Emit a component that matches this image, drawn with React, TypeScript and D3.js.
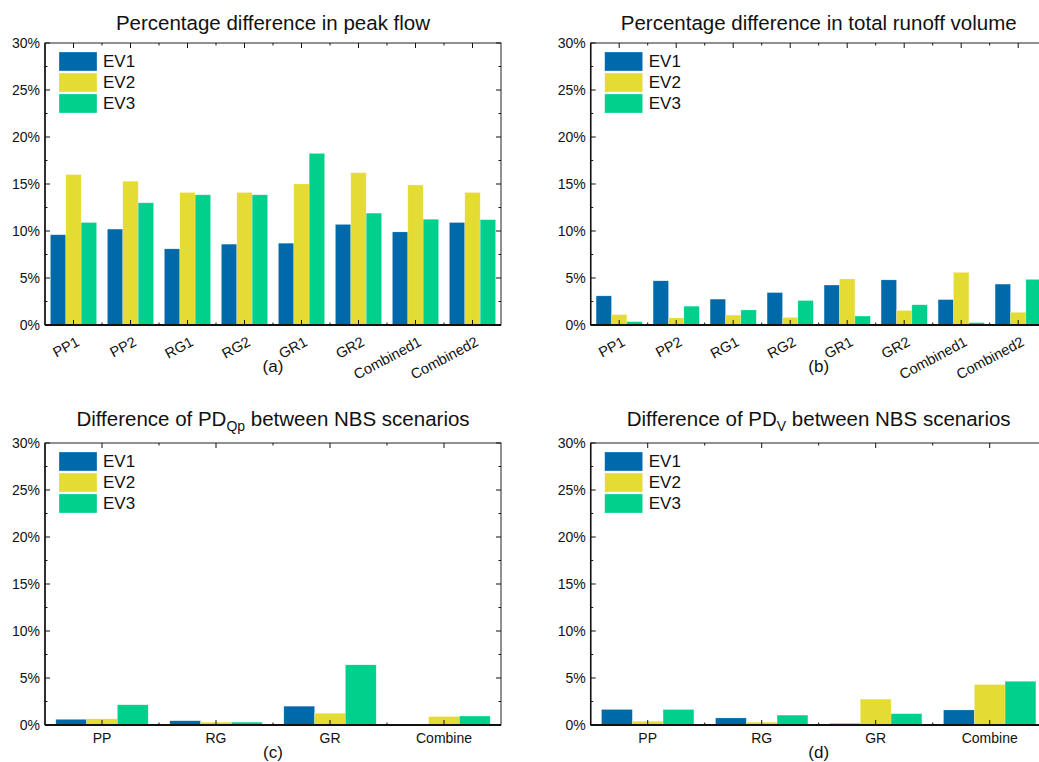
import * as d3 from 'd3';

const EVENTS = ['EV1', 'EV2', 'EV3'];
const COLORS = ['#0069aa', '#e5dc33', '#00d08c'];

const nbsScenarios = ['PP1', 'PP2', 'RG1', 'RG2', 'GR1', 'GR2', 'Combined1', 'Combined2'];
const nbsTypes = ['PP', 'RG', 'GR', 'Combine'];

// (a) percentage difference in peak flow
const peakEV1 = [9.6, 10.2, 8.1, 8.6, 8.7, 10.7, 9.9, 10.9];
const peakEV2 = [16.0, 15.3, 14.1, 14.1, 15.0, 16.2, 14.9, 14.1];
const peakEV3 = [10.9, 13.0, 13.85, 13.85, 18.25, 11.9, 11.25, 11.2];

// (b) percentage difference in total runoff volume
const volEV1 = [3.1, 4.7, 2.75, 3.45, 4.25, 4.8, 2.7, 4.35];
const volEV2 = [1.1, 0.75, 1.05, 0.8, 4.9, 1.55, 5.6, 1.35];
const volEV3 = [0.35, 2.0, 1.6, 2.6, 0.95, 2.15, 0.25, 4.85];

// (c) difference of PD_Qp between NBS scenarios
const dQpEV1 = [0.6, 0.45, 2.0, 0];
const dQpEV2 = [0.65, 0.3, 1.25, 0.9];
const dQpEV3 = [2.15, 0.3, 6.4, 0.95];

// (d) difference of PD_V between NBS scenarios
const dVEV1 = [1.65, 0.75, 0.15, 1.6];
const dVEV2 = [0.4, 0.3, 2.75, 4.3];
const dVEV3 = [1.65, 1.05, 1.2, 4.65];

const yTicks = [0, 5, 10, 15, 20, 25, 30];
const yMinorTicks = [2.5, 7.5, 12.5, 17.5, 22.5, 27.5];

const FONT = '"Liberation Sans", Arial, Helvetica, sans-serif';

interface PanelProps {
  left: number;
  top: number;
  width: number;
  height: number;
  title: string;
  sub?: string;
  titleAfter?: string;
  titleGap: number;
  tag: string;
  tagGap: number;
  categories: string[];
  series: number[][];
  rotate: boolean;
}

function Panel({ left, top, width, height, title, sub, titleAfter, titleGap, tag, tagGap, categories, series, rotate }: PanelProps) {
  const right = left + width;
  const bottom = top + height;
  const y = d3.scaleLinear().domain([0, 30]).range([bottom, top]);
  const x = d3.scaleBand<string>().domain(categories).range([left, right]).paddingInner(0.19).paddingOuter(0.095);
  const xi = d3.scaleBand<string>().domain(EVENTS).range([0, x.bandwidth()]);
  const step = x.step();
  const bounds = d3.range(1, categories.length).map((i) => left + i * step);

  return (
    <g>
      <text x={(left + right) / 2} y={top - titleGap} textAnchor="middle" fontSize={20.5} fill="#111">
        {title}
        {sub && (
          <tspan fontSize={14} dy={5}>
            {sub}
          </tspan>
        )}
        {titleAfter && <tspan dy={sub ? -5 : 0}>{titleAfter}</tspan>}
      </text>

      {categories.map((c, ci) => (
        <g key={c}>
          {series.map((vals, si) => {
            const v = vals[ci];
            if (v <= 0) return null;
            return (
              <rect
                key={si}
                x={(x(c) ?? 0) + (xi(EVENTS[si]) ?? 0)}
                y={y(v)}
                width={xi.bandwidth()}
                height={y(0) - y(v)}
                fill={COLORS[si]}
                stroke="rgba(255,255,255,0.35)"
                strokeWidth={0.6}
              />
            );
          })}
        </g>
      ))}

      {/* frame */}
      <rect x={left} y={top} width={width} height={height} fill="none" stroke="#222" strokeWidth={1} />
      <line x1={left} x2={left} y1={top} y2={bottom} stroke="#111" strokeWidth={1.5} />
      <line x1={left} x2={right} y1={bottom} y2={bottom} stroke="#111" strokeWidth={2} />

      {/* y ticks */}
      {yTicks.map((t) => (
        <g key={t}>
          <line x1={left} x2={left + 5} y1={y(t)} y2={y(t)} stroke="#111" />
          <line x1={right} x2={right - 5} y1={y(t)} y2={y(t)} stroke="#111" />
          <text x={left - 5} y={y(t)} dy="0.36em" textAnchor="end" fontSize={14} fill="#111">
            {t}%
          </text>
        </g>
      ))}
      {yMinorTicks.map((t) => (
        <g key={t}>
          <line x1={left} x2={left + 2.5} y1={y(t)} y2={y(t)} stroke="#111" />
          <line x1={right} x2={right - 2.5} y1={y(t)} y2={y(t)} stroke="#111" />
        </g>
      ))}

      {/* x ticks */}
      {categories.map((c) => {
        const cx = (x(c) ?? 0) + x.bandwidth() / 2;
        return (
          <g key={c}>
            <line x1={cx} x2={cx} y1={bottom} y2={bottom - 5} stroke="#111" />
            <line x1={cx} x2={cx} y1={top} y2={top + 5} stroke="#111" />
            {rotate ? (
              <text transform={`translate(${cx + 7},${bottom + 20}) rotate(-28)`} textAnchor="end" fontSize={14.5} fill="#111">
                {c}
              </text>
            ) : (
              <text x={cx} y={bottom + 18} textAnchor="middle" fontSize={14} fill="#111">
                {c}
              </text>
            )}
          </g>
        );
      })}
      {bounds.map((bx) => (
        <g key={bx}>
          <line x1={bx} x2={bx} y1={bottom} y2={bottom - 2.5} stroke="#111" />
          <line x1={bx} x2={bx} y1={top} y2={top + 2.5} stroke="#111" />
        </g>
      ))}

      {/* legend */}
      {EVENTS.map((e, i) => (
        <g key={e} transform={`translate(${left + 14},${top + 9 + i * 21})`}>
          <rect width={38} height={19} fill={COLORS[i]} stroke="rgba(255,255,255,0.5)" strokeWidth={0.6} />
          <text x={44} y={9.5} dy="0.35em" fontSize={17} fill="#111">
            {e}
          </text>
        </g>
      ))}

      <text x={(left + right) / 2} y={bottom + tagGap} textAnchor="middle" fontSize={17} fill="#111">
        {tag}
      </text>
    </g>
  );
}

export default function App() {
  return (
    <svg
      width={1039}
      height={762}
      style={{ position: 'absolute', left: 0, top: 0, background: '#fff', fontFamily: FONT, overflow: 'hidden' }}
    >
      <rect width={1039} height={762} fill="#fff" />
      <Panel
        left={45}
        top={43}
        width={456}
        height={282}
        title="Percentage difference in peak flow"
        titleGap={13}
        tag="(a)"
        tagGap={47}
        categories={nbsScenarios}
        series={[peakEV1, peakEV2, peakEV3]}
        rotate
      />
      <Panel
        left={590.7}
        top={43}
        width={456}
        height={282}
        title="Percentage difference in total runoff volume"
        titleGap={13}
        tag="(b)"
        tagGap={47}
        categories={nbsScenarios}
        series={[volEV1, volEV2, volEV3]}
        rotate
      />
      <Panel
        left={45}
        top={443}
        width={456}
        height={282}
        title="Difference of PD"
        sub="Qp"
        titleAfter=" between NBS scenarios"
        titleGap={17}
        tag="(c)"
        tagGap={33}
        categories={nbsTypes}
        series={[dQpEV1, dQpEV2, dQpEV3]}
        rotate={false}
      />
      <Panel
        left={590.7}
        top={443}
        width={456}
        height={282}
        title="Difference of PD"
        sub="V"
        titleAfter=" between NBS scenarios"
        titleGap={17}
        tag="(d)"
        tagGap={33}
        categories={nbsTypes}
        series={[dVEV1, dVEV2, dVEV3]}
        rotate={false}
      />
    </svg>
  );
}
